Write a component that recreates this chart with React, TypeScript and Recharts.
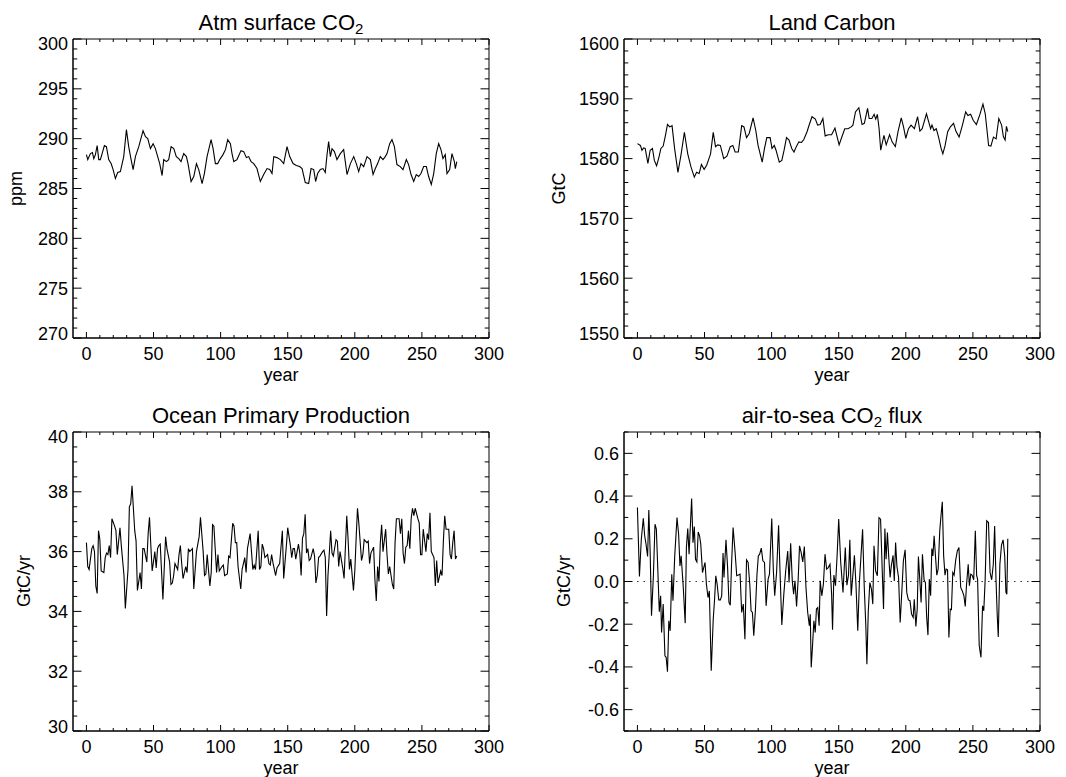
import React from 'react';
import { LineChart, Line, XAxis, YAxis, ReferenceLine, ReferenceArea } from 'recharts';

const FONT = '"Liberation Sans", Arial, Helvetica, sans-serif';

// ---------- axis ticks ----------
const yearTicks = [0, 10, 20, 30, 40, 50, 60, 70, 80, 90, 100, 110, 120, 130, 140, 150, 160, 170, 180, 190, 200, 210, 220, 230, 240, 250, 260, 270, 280, 290, 300];
const yearMajor = [0, 50, 100, 150, 200, 250, 300];

const co2Ticks = [270, 271, 272, 273, 274, 275, 276, 277, 278, 279, 280, 281, 282, 283, 284, 285, 286, 287, 288, 289, 290, 291, 292, 293, 294, 295, 296, 297, 298, 299, 300];
const co2Major = [270, 275, 280, 285, 290, 295, 300];

const landTicks = [1550, 1552, 1554, 1556, 1558, 1560, 1562, 1564, 1566, 1568, 1570, 1572, 1574, 1576, 1578, 1580, 1582, 1584, 1586, 1588, 1590, 1592, 1594, 1596, 1598, 1600];
const landMajor = [1550, 1560, 1570, 1580, 1590, 1600];

const oceanTicks = [30, 30.5, 31, 31.5, 32, 32.5, 33, 33.5, 34, 34.5, 35, 35.5, 36, 36.5, 37, 37.5, 38, 38.5, 39, 39.5, 40];
const oceanMajor = [30, 32, 34, 36, 38, 40];

const fluxTicks = [-0.7, -0.6, -0.5, -0.4, -0.3, -0.2, -0.1, 0, 0.1, 0.2, 0.3, 0.4, 0.5, 0.6, 0.7];
const fluxMajor = [-0.6, -0.4, -0.2, 0, 0.2, 0.4, 0.6];

// ---------- Atm surface CO2 (ppm) ----------
const co2Years = [0, 1, 3, 4.5, 5.5, 6.7, 8, 9.2, 10.4, 11.7,
  13.4, 14.9, 16.6, 18.4, 19.9, 21.6, 23.3, 25.3, 27.8, 29.8,
  31.5, 33.3, 34.8, 36.5, 39, 42.2, 44, 45.7, 47.7, 49.7,
  51.4, 53.1, 54.6, 56.4, 57.6, 59.6, 61.3, 63.1, 65.1, 67,
  68.8, 70.5, 72.5, 74.5, 75.7, 78, 80, 82, 83.7, 86.2,
  87.9, 89.9, 92.9, 94.4, 96.1, 97.8, 99.8, 101.8, 103.6, 105.3,
  107.3, 108.5, 109.8, 112.2, 115.2, 117.2, 119.2, 120.9, 122.7, 124.7,
  127.1, 129.6, 132.1, 134.6, 136.6, 138.3, 139.6, 142, 144.5, 147,
  149.5, 151.5, 154, 156.4, 158.9, 160.7, 163.1, 165.6, 167.4, 169.4,
  170.8, 172.3, 174.3, 176.3, 178, 179.3, 180.5, 181.8, 183, 184.8,
  186.7, 189.2, 191.7, 194.2, 196.7, 199.2, 201.1, 202.9, 204.6, 206.6,
  209.1, 211.6, 213.6, 215.3, 217, 219, 221, 222.7, 224, 226,
  227.7, 229.5, 231.4, 233.9, 235.9, 238.4, 240.1, 241.9, 243.9, 245.8,
  247.6, 249.3, 251.3, 253.3, 255, 257, 258.8, 260.7, 262.5, 264.2,
  265.7, 267.4, 268.7, 270.7, 272.4, 274.2, 274.9, 276];
const co2Values = [288.4, 287.9, 288.5, 288.6, 288.0, 288.4, 289.3, 287.9, 287.9, 288.5,
  289.3, 289.2, 287.9, 287.5, 286.9, 286.0, 286.6, 286.7, 288.2, 290.9,
  289.2, 287.9, 286.9, 288.2, 289.2, 290.8, 290.2, 290.0, 289.0, 289.5,
  289.0, 288.2, 287.5, 286.3, 287.9, 287.7, 287.9, 289.2, 289.0, 288.2,
  288.0, 287.7, 288.5, 288.2, 287.5, 285.7, 286.2, 287.5, 286.9, 285.5,
  286.5, 288.2, 289.9, 289.0, 287.5, 287.5, 288.0, 288.4, 288.9, 289.9,
  289.5, 288.5, 287.7, 287.9, 288.8, 288.7, 288.1, 288.2, 287.7, 287.5,
  287.0, 285.7, 286.4, 287.0, 286.9, 286.5, 288.2, 288.1, 287.9, 287.5,
  289.2, 288.2, 287.5, 287.3, 287.2, 287.0, 285.6, 285.5, 287.0, 286.9,
  285.7, 286.5, 286.9, 287.0, 286.6, 288.4, 289.7, 288.2, 289.0, 288.7,
  287.9, 288.5, 288.9, 286.4, 287.5, 288.2, 287.5, 286.7, 287.5, 287.2,
  288.2, 287.9, 286.4, 287.0, 287.5, 288.2, 287.9, 288.2, 288.5, 289.5,
  289.9, 289.2, 287.4, 287.2, 286.9, 287.9, 287.4, 286.4, 285.7, 286.4,
  286.2, 286.5, 287.2, 287.2, 286.2, 285.4, 286.5, 288.5, 289.5, 288.9,
  288.0, 288.4, 286.5, 286.9, 288.5, 287.7, 287.0, 287.7];

// ---------- Land Carbon (GtC) ----------
const landYears = [0, 2.2, 3.4, 4.6, 5.8, 7.8, 9.5, 11.2, 12.6, 14.3,
  16.1, 17.5, 19.2, 20.9, 22.4, 24.1, 25.8, 27.7, 30.2, 32.6,
  35.0, 37.5, 39.9, 42.4, 44.1, 46.0, 47.7, 49.7, 51.6, 53.3,
  54.5, 56.5, 58.2, 59.9, 61.8, 64.3, 66.7, 69.2, 71.1, 72.8,
  75.2, 77.7, 79.4, 81.3, 83.3, 86.2, 88.2, 89.9, 93.0, 94.7,
  96.4, 98.9, 100.3, 102.0, 103.3, 105.7, 107.6, 109.3, 111.1, 113.0,
  115.0, 116.7, 118.4, 120.3, 122.3, 124.0, 126.4, 128.1, 130.1, 132.6,
  134.3, 136.2, 138.2, 139.9, 142.3, 144.7, 147.2, 150.3, 152.0, 154.5,
  156.9, 159.3, 160.6, 162.5, 165.0, 167.4, 169.1, 171.5, 172.7, 174.7,
  176.4, 177.6, 178.8, 180.1, 181.3, 183.7, 185.4, 187.9, 189.8, 192.2,
  194.2, 196.6, 198.3, 200.0, 202.0, 203.9, 206.4, 208.8, 210.5, 212.2,
  215.4, 217.1, 218.5, 219.5, 221.0, 222.7, 224.4, 226.3, 227.6, 229.3,
  231.2, 233.2, 235.6, 237.3, 239.7, 242.2, 244.6, 246.3, 248.3, 250.2,
  252.6, 255.1, 257.5, 259.2, 261.7, 263.4, 265.3, 267.3, 269.3, 271.4,
  272.7, 274.0, 275.0, 276.0];
const landValues = [1582.5, 1582.2, 1581.4, 1581.8, 1581.7, 1579.2, 1581.4, 1581.7, 1579.7, 1578.8,
  1580.3, 1581.7, 1582.1, 1583.9, 1585.7, 1585.3, 1585.5, 1581.7, 1577.7, 1580.8,
  1584.4, 1580.8, 1578.6, 1576.9, 1577.7, 1577.5, 1579.0, 1578.2, 1578.9, 1580.0,
  1580.8, 1584.4, 1582.0, 1582.3, 1582.2, 1580.0, 1580.4, 1582.0, 1582.2, 1581.1,
  1581.1, 1585.5, 1585.3, 1583.5, 1584.2, 1586.8, 1584.7, 1582.2, 1579.4, 1581.7,
  1583.5, 1583.5, 1581.7, 1582.2, 1581.4, 1579.4, 1579.7, 1581.4, 1583.5, 1583.1,
  1581.7, 1581.1, 1582.0, 1582.8, 1582.7, 1583.2, 1584.5, 1585.7, 1587.0, 1586.6,
  1585.6, 1585.7, 1586.7, 1583.8, 1584.0, 1584.0, 1585.1, 1582.3, 1583.4, 1585.0,
  1585.0, 1585.3, 1585.6, 1587.8, 1588.5, 1585.7, 1585.9, 1588.4, 1586.7, 1586.7,
  1587.4, 1586.6, 1587.4, 1585.0, 1581.4, 1583.9, 1582.3, 1584.0, 1582.8, 1582.0,
  1584.5, 1586.8, 1585.3, 1583.4, 1585.0, 1585.6, 1585.0, 1587.0, 1584.6, 1585.0,
  1587.5, 1586.1, 1585.0, 1585.6, 1584.7, 1585.0, 1583.6, 1581.7, 1580.8, 1582.2,
  1584.5, 1585.3, 1585.9, 1584.6, 1583.6, 1585.6, 1587.8, 1587.2, 1587.4, 1586.4,
  1585.7, 1587.3, 1589.1, 1587.5, 1582.2, 1582.1, 1583.6, 1583.3, 1586.7, 1585.6,
  1583.7, 1583.1, 1585.4, 1584.5];

// ---------- Ocean Primary Production (GtC/yr) ----------
const oceanYears = [0, 1, 2, 4, 5, 6, 7, 8, 9, 10,
  11, 13, 14, 15, 16, 17, 18, 19, 21, 22,
  23, 25, 26, 28, 29, 31, 32, 33, 34, 36,
  37, 38, 40, 41, 42, 43, 45, 46, 47, 48,
  49, 51, 52, 53, 54, 55, 57, 59, 60, 62,
  63, 64, 65, 66, 68, 69, 70, 71, 72, 74,
  75, 76, 77, 79, 80, 82, 84, 85, 87, 88,
  89, 90, 92, 93, 94, 95, 97, 98, 99, 101,
  102, 103, 105, 106, 107, 109, 110, 111, 112, 113,
  115, 116, 118, 119, 120, 121, 122, 124, 125, 126,
  128, 129, 130, 131, 132, 133, 135, 136, 137, 138,
  139, 141, 142, 144, 146, 147, 149, 150, 152, 153,
  154, 155, 156, 158, 159, 160, 161, 162, 163, 164,
  165, 166, 167, 169, 170, 171, 172, 173, 174, 176,
  177, 178, 179, 180, 182, 183, 184, 186, 187, 188,
  189, 191, 192, 194, 195, 196, 197, 199, 200, 201,
  202, 203, 205, 206, 207, 209, 210, 211, 212, 214,
  215, 216, 217, 218, 219, 220, 221, 223, 224, 225,
  226, 228, 229, 230, 231, 233, 234, 235, 236, 237,
  238, 239, 240, 241, 242, 243, 244, 245, 247, 248,
  249, 250, 251, 253, 254, 255, 256, 257, 259, 260,
  261, 262, 264, 265, 266, 267, 268, 270, 271, 272,
  273, 274, 275, 276];
const oceanValues = [36.3, 35.5, 35.4, 36.1, 36.2, 36.0, 34.85, 34.6, 36.7, 36.4,
  35.35, 35.3, 35.8, 35.95, 35.9, 36.2, 35.8, 37.1, 36.85, 36.7,
  35.9, 36.8, 36.2, 35.2, 34.1, 35.4, 37.5, 37.6, 38.2, 36.7,
  36.35, 34.7, 35.3, 34.75, 36.1, 36.1, 35.65, 36.6, 37.15, 36.2,
  35.35, 36.0, 35.45, 36.1, 36.2, 36.25, 34.4, 36.5, 36.1, 35.65,
  34.9, 34.95, 35.2, 35.6, 35.4, 35.9, 36.2, 35.6, 35.1, 35.5,
  35.3, 36.1, 36.0, 36.1, 34.75, 36.0, 36.5, 37.15, 36.0, 35.2,
  35.25, 35.9, 34.85, 35.3, 36.9, 36.85, 35.3, 35.9, 35.35, 35.5,
  35.55, 35.2, 35.25, 35.85, 35.8, 36.95, 36.85, 36.3, 36.3, 35.5,
  34.75, 35.4, 35.8, 35.3, 36.1, 36.35, 36.6, 35.4, 35.55, 35.4,
  36.7, 35.4, 35.5, 36.25, 36.1, 35.8, 35.9, 35.6, 35.55, 35.9,
  35.63, 35.2, 35.45, 35.6, 36.7, 35.1, 36.2, 36.8, 36.2, 35.8,
  36.1, 36.1, 35.75, 36.25, 35.95, 35.2, 36.45, 36.6, 37.25, 35.95,
  36.1, 35.7, 35.75, 36.1, 35.85, 34.95, 35.2, 35.8, 35.85, 36.0,
  36.05, 35.8, 33.85, 35.2, 36.7, 35.95, 35.85, 36.4, 36.35, 35.5,
  36.0, 35.45, 35.1, 37.2, 36.4, 35.4, 35.75, 34.7, 35.35, 36.45,
  37.45, 36.95, 35.7, 35.9, 36.4, 36.3, 36.35, 35.6, 35.95, 36.15,
  35.05, 34.35, 35.5, 35.0, 36.3, 36.9, 36.0, 36.75, 35.9, 35.25,
  35.5, 34.9, 34.75, 36.3, 37.1, 37.1, 36.6, 37.1, 35.95, 35.6,
  36.15, 36.2, 36.7, 36.1, 37.1, 37.45, 37.2, 37.45, 37.1, 36.95,
  35.9, 35.9, 36.75, 36.0, 36.6, 36.4, 37.3, 36.0, 35.8, 34.85,
  35.7, 34.95, 35.35, 35.2, 36.35, 37.2, 36.75, 36.75, 35.9, 35.75,
  36.3, 36.7, 35.75, 35.85];

// ---------- air-to-sea CO2 flux (GtC/yr) ----------
const fluxYears = [0, 1.5, 2.9, 4.4, 5.4, 6.3, 7.6, 8.5, 9.5, 10.5,
  11.9, 13.1, 14.1, 15.1, 16.3, 17.3, 18.0, 19.2, 20.5, 21.4,
  22.4, 23.4, 24.4, 25.6, 26.5, 27.8, 29.5, 30.7, 31.7, 32.6,
  34.1, 35.6, 36.5, 37.5, 38.5, 39.4, 40.4, 41.4, 42.4, 43.3,
  44.3, 45.3, 46.3, 47.2, 48.5, 49.4, 50.4, 51.4, 52.6, 53.6,
  55.0, 56.5, 57.5, 58.4, 59.4, 60.6, 61.8, 62.8, 63.8, 64.5,
  66.0, 67.2, 68.2, 69.2, 70.1, 71.3, 72.8, 74.0, 75.2, 76.5,
  77.7, 78.9, 80.1, 81.3, 82.5, 83.8, 84.7, 85.7, 86.7, 87.9,
  89.1, 90.1, 91.1, 92.3, 93.5, 94.7, 95.9, 97.4, 98.4, 100.1,
  101.3, 102.3, 103.7, 105.2, 106.4, 107.6, 109.1, 110.5, 112.0, 113.0,
  114.2, 115.4, 116.4, 117.4, 118.6, 119.8, 120.8, 122.0, 123.2, 124.4,
  125.6, 126.9, 128.1, 128.8, 129.5, 130.5, 131.5, 132.5, 133.4, 134.4,
  135.4,
  136.2, 137.4, 138.6, 139.8, 141.0, 142.2, 143.5, 144.7, 145.4, 146.4,
  147.6, 148.8, 150.0, 151.5, 153.2, 154.9, 156.1, 157.3, 158.3, 159.3,
  160.5, 161.7, 162.9, 164.2, 165.4, 166.6, 167.8, 169.0, 170.2, 171.0,
  172.0, 173.2, 174.4, 175.4, 176.3, 177.5, 178.8, 180.0, 181.2, 182.4,
  183.4, 184.4, 185.3, 186.3, 187.3, 188.3, 189.2, 190.5, 191.4, 192.4,
  193.4, 194.6, 195.8, 197.0, 198.2, 199.5, 200.7, 201.9, 203.1, 204.3,
  205.5, 206.3, 207.5, 208.5, 209.4, 210.4, 211.4, 212.4, 213.6, 214.6,
  215.5, 216.5, 217.5, 218.5, 219.4, 220.2, 221.1, 222.1, 223.1, 224.1,
  225.3, 226.2, 227.2, 228.2, 229.2, 230.1, 231.1, 232.1, 233.1, 234.0,
  235.0, 236.0, 237.2, 238.4, 239.6, 240.9, 242.1, 243.3, 244.3, 245.2,
  246.5, 247.4, 248.4, 249.4, 250.6, 251.8, 252.8, 253.5, 254.7, 256.0,
  257.2, 258.1, 259.1, 260.3, 261.6, 262.8, 264.0, 265.2, 266.2, 267.2,
  268.1, 268.9, 270.1, 271.3, 272.5, 273.7, 274.6, 275.3, 276.0];
const fluxValues = [0.346, 0.023, 0.198, 0.296, 0.214, 0.18, 0.117, 0.335, 0.136, -0.16,
  0.027, 0.268, 0.245, 0.073, -0.142, -0.067, -0.239, -0.106, -0.348, -0.355,
  -0.422, -0.184, -0.231, 0.034, -0.09, 0.12, 0.3, 0.221, 0.073, 0.12,
  -0.02, -0.195, 0.159, 0.248, 0.128, 0.253, 0.388, 0.182, 0.257, 0.104,
  0.092, 0.232, 0.214, 0.175, 0.042, 0.065, 0.089, -0.012, -0.075, -0.044,
  -0.418, -0.176, -0.083, 0.027, -0.012, -0.086, -0.086, -0.067, 0.133, 0.019,
  0.195, 0.065, -0.098, -0.111, 0.073, 0.253, 0.136, 0.027, 0.03, 0.034,
  -0.145, -0.106, -0.27, 0.101, 0.089, -0.02, -0.137, -0.145, -0.254, -0.137,
  0.034, 0.12, 0.128, 0.156, 0.097, 0.089, -0.114, 0.011, 0.034, 0.295,
  0.05, -0.067, 0.042, 0.263, 0.019, -0.204, -0.059, 0.05, 0.143, -0.005,
  0.179, 0.003, -0.059, 0.003, -0.117, 0.011, 0.167, 0.136, 0.092, 0.164,
  -0.028, -0.145, -0.207, -0.153, -0.402, -0.3, -0.184, -0.239, -0.129, -0.122,
  -0.207,
  0.003, -0.067, -0.012, 0.128, 0.058, 0.065, 0.081, -0.059, -0.226, 0.03,
  -0.02, 0.12, 0.292, 0.089, -0.051, 0.159, -0.017, 0.03, 0.195, -0.067,
  0.027, 0.123, -0.02, -0.231, -0.005, 0.12, 0.245, -0.02, -0.207, -0.387,
  -0.145, -0.005, -0.036, -0.106, 0.167, 0.05, 0.027, 0.299, 0.292, 0.058,
  -0.129, 0.248, 0.104, 0.229, 0.112, 0.019, 0.073, 0.123, 0.003, 0.182,
  0.07, 0.019, -0.192, -0.051, 0.097, 0.148, -0.051, -0.086, -0.09, -0.153,
  -0.168, -0.083, -0.21, -0.129, 0.117, 0.011, -0.098, 0.128, 0.008, -0.005,
  -0.161, -0.251, 0.011, -0.067, 0.154, 0.12, 0.214, 0.12, 0.03, 0.058,
  0.237, 0.307, 0.373, 0.12, 0.03, 0.058, 0.055, -0.262, -0.129, -0.132,
  0.042, 0.03, 0.101, 0.143, 0.159, -0.028, -0.044, -0.067, -0.117, -0.02,
  0.081, -0.02, 0.034, 0.03, 0.008, 0.237, 0.027, 0.011, -0.3, -0.355,
  -0.114, -0.137, 0.003, 0.284, 0.276, 0.042, 0.008, 0.081, 0.26, 0.011,
  -0.153, -0.26, 0.081, 0.17, 0.195, 0.12, -0.05, -0.06, 0.2];

// ---------- helpers ----------
const toRows = (xs: number[], ys: number[]) => {
  const n = Math.min(xs.length, ys.length);
  const rows: { year: number; value: number }[] = [];
  for (let i = 0; i < n; i++) rows.push({ year: xs[i], value: ys[i] });
  return rows;
};
const near = (a: number, b: number) => Math.abs(a - b) < 1e-6;
const isMajor = (v: number, majors: number[]) => majors.some((m) => near(m, v));

const Y_MAJOR = 8.5;
const Y_MINOR = 4.3;
const X_MAJOR = 6;
const X_MINOR = 3;
const TICK_FS = 18;
const X_DOMAIN: [number, number] = [-10, 300];

type PanelProps = {
  left: number;
  top: number;
  width: number;
  height: number;
  plot: { l: number; t: number; r: number; b: number };
  rows: { year: number; value: number }[];
  yDomain: [number, number];
  yTicks: number[];
  yMajor: number[];
  fmt: (v: number) => string;
  zeroLine?: boolean;
};

function Panel(p: PanelProps) {
  const { plot, width, height, yDomain } = p;
  const plotW = plot.r - plot.l;
  const plotH = plot.b - plot.t;
  // left axis ticks (inward) + mirrored right-side ticks + labels
  const leftTick = (t: any) => {
    const v = t.payload.value;
    const major = isMajor(v, p.yMajor);
    const len = major ? Y_MAJOR : Y_MINOR;
    let shift = 0;
    if (near(v, yDomain[1])) shift = 5;
    if (near(v, yDomain[0])) shift = -4;
    const xr = t.x + plotW;
    return (
      <g>
        <line x1={t.x} x2={t.x + len} y1={t.y} y2={t.y} stroke="#000" strokeWidth={1} />
        <line x1={xr} x2={xr - len} y1={t.y} y2={t.y} stroke="#000" strokeWidth={1} />
        {major && (
          <text x={t.x - 5} y={t.y + shift} dy="0.36em" textAnchor="end" fontSize={TICK_FS} fontFamily={FONT} fill="#000">
            {p.fmt(v)}
          </text>
        )}
      </g>
    );
  };
  // bottom axis ticks (inward) + mirrored top ticks + labels
  const bottomTick = (t: any) => {
    const v = t.payload.value;
    const major = isMajor(v, yearMajor);
    const len = major ? X_MAJOR : X_MINOR;
    const yt = t.y - plotH;
    return (
      <g>
        <line x1={t.x} x2={t.x} y1={t.y} y2={t.y - len} stroke="#000" strokeWidth={1} />
        <line x1={t.x} x2={t.x} y1={yt} y2={yt + len} stroke="#000" strokeWidth={1} />
        {major && (
          <text x={t.x} y={t.y + 22} textAnchor="middle" fontSize={TICK_FS} fontFamily={FONT} fill="#000">
            {String(v)}
          </text>
        )}
      </g>
    );
  };
  const axisLine = { stroke: '#000', strokeWidth: 1 };
  return (
    <div style={{ position: 'absolute', left: p.left, top: p.top, width, height }}>
      <LineChart
        width={width}
        height={height}
        data={p.rows}
        margin={{ top: plot.t, right: width - plot.r, bottom: 0, left: 0 }}
      >
        <XAxis
          dataKey="year"
          type="number"
          domain={X_DOMAIN}
          allowDataOverflow
          ticks={yearTicks}
          interval={0}
          height={height - plot.b}
          tickSize={0}
          tickMargin={0}
          tickLine={false}
          axisLine={axisLine}
          tick={bottomTick}
        />
        <YAxis
          type="number"
          domain={yDomain}
          allowDataOverflow
          ticks={p.yTicks}
          interval={0}
          width={plot.l}
          tickSize={0}
          tickMargin={0}
          tickLine={false}
          axisLine={axisLine}
          tick={leftTick}
        />
        <ReferenceArea
          x1={X_DOMAIN[0]}
          x2={X_DOMAIN[1]}
          y1={yDomain[0]}
          y2={yDomain[1]}
          fill="none"
          fillOpacity={0}
          stroke="#000"
          strokeWidth={1}
          ifOverflow="visible"
        />
        {p.zeroLine && (
          <ReferenceLine y={0} stroke="#333" strokeWidth={1} strokeDasharray="1.5 5" />
        )}
        <Line
          type="linear"
          dataKey="value"
          stroke="#000"
          strokeWidth={1.1}
          dot={false}
          activeDot={false}
          isAnimationActive={false}
        />
      </LineChart>
    </div>
  );
}

const int = (v: number) => String(v);
const one = (v: number) => v.toFixed(1);

export default function App() {
  const W = 1066;
  const H = 777;
  const titleFs = 22;
  const labelFs = 18;
  return (
    <div style={{ position: 'absolute', left: 0, top: 0, width: W, height: H, background: '#fff', fontFamily: FONT }}>
      <Panel left={0} top={0} width={533} height={390} plot={{ l: 73, t: 39, r: 489, b: 338 }}
        rows={toRows(co2Years, co2Values)} yDomain={[270, 300]} yTicks={co2Ticks} yMajor={co2Major} fmt={int} />
      <Panel left={533} top={0} width={533} height={390} plot={{ l: 91, t: 39, r: 507, b: 338 }}
        rows={toRows(landYears, landValues)} yDomain={[1550, 1600]} yTicks={landTicks} yMajor={landMajor} fmt={int} />
      <Panel left={0} top={390} width={533} height={387} plot={{ l: 73, t: 42, r: 489, b: 341 }}
        rows={toRows(oceanYears, oceanValues)} yDomain={[30, 40]} yTicks={oceanTicks} yMajor={oceanMajor} fmt={int} />
      <Panel left={533} top={390} width={533} height={387} plot={{ l: 91, t: 42, r: 507, b: 341 }}
        rows={toRows(fluxYears, fluxValues)} yDomain={[-0.7, 0.7]} yTicks={fluxTicks} yMajor={fluxMajor} fmt={one} zeroLine />

      <svg width={W} height={H} style={{ position: 'absolute', left: 0, top: 0, pointerEvents: 'none' }}>
        <g fontFamily={FONT} fill="#000">
          <text x={281} y={30} textAnchor="middle" fontSize={titleFs}>
            Atm surface CO<tspan fontSize={15} dy={4}>2</tspan>
          </text>
          <text x={832} y={30} textAnchor="middle" fontSize={titleFs}>Land Carbon</text>
          <text x={281} y={422.5} textAnchor="middle" fontSize={titleFs}>Ocean Primary Production</text>
          <text x={832} y={422.5} textAnchor="middle" fontSize={titleFs}>
            air-to-sea CO<tspan fontSize={15} dy={4}>2</tspan><tspan dy={-4}> flux</tspan>
          </text>

          <text x={281} y={381} textAnchor="middle" fontSize={labelFs}>year</text>
          <text x={832} y={381} textAnchor="middle" fontSize={labelFs}>year</text>
          <text x={281} y={774} textAnchor="middle" fontSize={labelFs}>year</text>
          <text x={832} y={774} textAnchor="middle" fontSize={labelFs}>year</text>

          <text transform="translate(21.5,188.5) rotate(-90)" textAnchor="middle" fontSize={labelFs}>ppm</text>
          <text transform="translate(564.5,188.5) rotate(-90)" textAnchor="middle" fontSize={labelFs}>GtC</text>
          <text transform="translate(30,581) rotate(-90)" textAnchor="middle" fontSize={labelFs}>GtC/yr</text>
          <text transform="translate(570,581) rotate(-90)" textAnchor="middle" fontSize={labelFs}>GtC/yr</text>
        </g>
      </svg>
    </div>
  );
}
